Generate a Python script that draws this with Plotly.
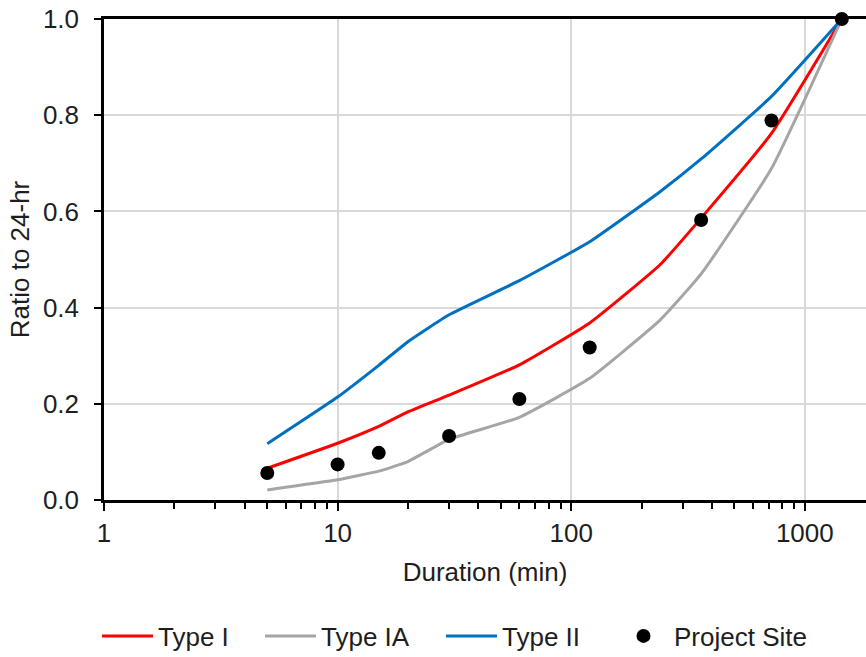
import plotly.graph_objects as go
import numpy as np

durations = [5, 10, 15, 20, 30, 60, 120, 240, 360, 720, 1440]
type_i = [0.066, 0.118, 0.153, 0.183, 0.218, 0.281, 0.368, 0.489, 0.586, 0.762, 1.0]
type_ia = [0.021, 0.042, 0.060, 0.080, 0.126, 0.172, 0.253, 0.374, 0.470, 0.689, 1.0]
type_ii = [0.117, 0.214, 0.280, 0.329, 0.385, 0.456, 0.537, 0.641, 0.709, 0.839, 1.0]

site_dur = [5, 10, 15, 30, 60, 120, 360, 720, 1440]
site_ratio = [0.056, 0.074, 0.098, 0.133, 0.210, 0.317, 0.582, 0.789, 1.0]

FONT = "Liberation Sans, Arial, sans-serif"
TXT = "#1e1e1e"
FS = 26

L0, PW = 104, 762  # plot left px, plot width px


def lx(px):
    return (px - L0) / PW


fig = go.Figure()
fig.add_trace(go.Scatter(x=durations, y=type_i, mode="lines", name="Type I", legend="legend",
                         line=dict(color="#FF0000", width=3, shape="spline", smoothing=0.4)))
fig.add_trace(go.Scatter(x=durations, y=type_ia, mode="lines", name="Type IA", legend="legend2",
                         line=dict(color="#A5A5A5", width=3, shape="spline", smoothing=0.4)))
fig.add_trace(go.Scatter(x=durations, y=type_ii, mode="lines", name="Type II", legend="legend3",
                         line=dict(color="#0070C0", width=3, shape="spline", smoothing=0.4)))
fig.add_trace(go.Scatter(x=site_dur, y=site_ratio, mode="markers", name="Project Site", legend="legend4",
                         marker=dict(color="black", size=14), cliponaxis=False))

LY = (500 - 636) / 481.0
leg_common = dict(orientation="h", xanchor="left", y=LY, yanchor="middle",
                  font=dict(size=FS, color=TXT, family=FONT), itemwidth=51,
                  bgcolor="rgba(0,0,0,0)", borderwidth=0)

fig.update_layout(
    width=866, height=657,
    margin=dict(l=104, r=0, t=19, b=157, autoexpand=False),
    paper_bgcolor="white", plot_bgcolor="white",
    font=dict(family=FONT, size=FS, color=TXT),
    showlegend=True,
    legend=dict(x=lx(97), **leg_common),
    legend2=dict(x=lx(260), **leg_common),
    legend3=dict(x=lx(441), **leg_common),
    legend4=dict(x=lx(613), **leg_common),
    xaxis=dict(type="log", range=[0, np.log10(1828)], automargin=False,
               tickvals=[1, 10, 100, 1000], ticktext=["1", "10", "100", "1000"],
               tickfont=dict(size=FS, color=TXT),
               showgrid=True, gridcolor="#D9D9D9", gridwidth=1.5,
               showline=True, linecolor="black", linewidth=2.5, mirror=True,
               ticks="outside", ticklen=8, tickwidth=2, tickcolor="black",
               ticklabelstandoff=0,
               minor=dict(ticks="outside", ticklen=6, tickwidth=1.5, tickcolor="black",
                          tickvals=[2, 3, 4, 5, 6, 7, 8, 9, 20, 30, 40, 50, 60, 70, 80, 90,
                                    200, 300, 400, 500, 600, 700, 800, 900],
                          showgrid=False),
               zeroline=False,
               title=dict(text="Duration (min)", standoff=16, font=dict(size=FS, color=TXT))),
    yaxis=dict(range=[0, 1], automargin=False, tickvals=[0, 0.2, 0.4, 0.6, 0.8, 1.0],
               ticktext=["0.0", "0.2", "0.4", "0.6", "0.8", "1.0"],
               tickfont=dict(size=FS, color=TXT),
               showgrid=True, gridcolor="#D9D9D9", gridwidth=1.5,
               showline=True, linecolor="black", linewidth=2.5,
               ticks="outside", ticklen=7, tickwidth=2, tickcolor="black",
               ticklabelstandoff=10,
               zeroline=False,
               title=dict(text="Ratio to 24-hr", standoff=6, font=dict(size=FS, color=TXT))),
)

fig.write_html("out.html", config={"displayModeBar": False},
               post_script="document.body.style.margin='0px';")
